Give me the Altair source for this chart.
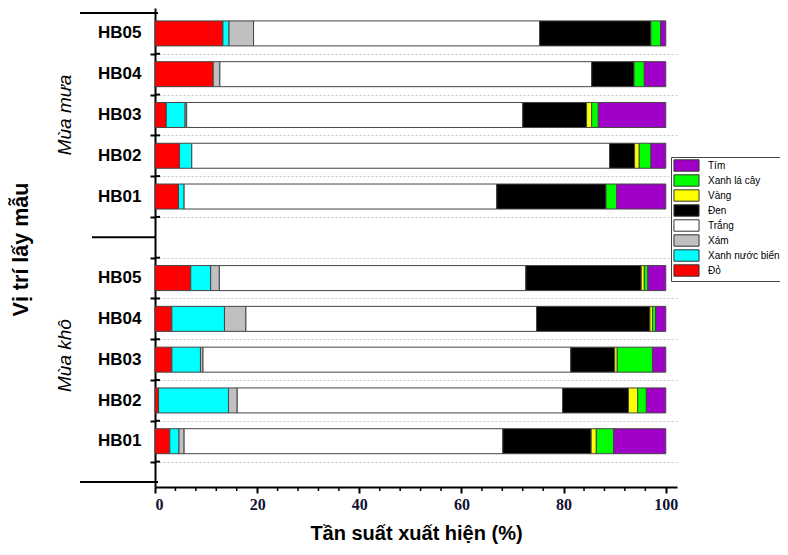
import altair as alt
import pandas as pd

# ---------------- data ----------------
sites = ["HB01", "HB02", "HB03", "HB04", "HB05"]
seasons = ["Mùa khô", "Mùa mưa"]
colour_names = ["Đỏ", "Xanh nước biển", "Xám", "Trắng", "Đen", "Vàng", "Xanh lá cây", "Tím"]
colour_hex = ["#FF0000", "#00FFFF", "#C0C0C0", "#FFFFFF", "#000000", "#FFFF00", "#00FF00", "#A000C8"]

# percentages in colour_names order (Đỏ ... Tím)
dry_hb01 = [2.9, 1.8, 1.0, 62.4, 17.3, 1.0, 3.4, 10.2]
dry_hb02 = [0.7, 13.7, 1.7, 63.7, 12.9, 1.8, 1.7, 3.8]
dry_hb03 = [3.3, 5.6, 0.5, 72.0, 8.6, 0.5, 6.9, 2.6]
dry_hb04 = [3.3, 10.3, 4.2, 56.9, 22.2, 0.5, 0.6, 2.0]
dry_hb05 = [7.0, 3.9, 1.7, 60.0, 22.6, 0.6, 0.7, 3.5]

wet_hb01 = [4.6, 1.1, 0.0, 61.2, 21.4, 0.0, 2.1, 9.6]
wet_hb02 = [4.8, 2.4, 0.0, 81.8, 4.9, 0.9, 2.3, 2.9]
wet_hb03 = [2.2, 3.7, 0.3, 65.8, 12.5, 1.0, 1.3, 13.2]
wet_hb04 = [11.4, 0.0, 1.3, 72.8, 8.3, 0.0, 2.0, 4.2]
wet_hb05 = [13.3, 1.2, 4.8, 56.0, 21.8, 0.0, 1.9, 1.0]

dry_rows = [dry_hb01, dry_hb02, dry_hb03, dry_hb04, dry_hb05]
wet_rows = [wet_hb01, wet_hb02, wet_hb03, wet_hb04, wet_hb05]

x_major = [0, 20, 40, 60, 80, 100]
x_minor = [v for v in range(0, 101, 4) if v % 20]

# ---------------- table ----------------
season_offset = {"Mùa khô": 0, "Mùa mưa": 6}
records = []
for season, rows in zip(seasons, [dry_rows, wet_rows]):
    for i, (site, vals) in enumerate(zip(sites, rows)):
        start = 0.0
        for cname, v in zip(colour_names, vals):
            if v > 0:
                records.append({"season": season, "site": site,
                                "pos": season_offset[season] + i + 0.5,
                                "colour": cname, "value": v,
                                "start": start, "end": start + v})
            start += v
df = pd.DataFrame(records)

tick_pos = list(range(0, 11))
tick_labels = sites + [""] + sites
label_expr = "[" + ",".join("'" + t + "'" for t in tick_labels) + "][datum.value]"

W, H = 522, 479
XT = "Tần suất xuất hiện (%)"
YT = "Vị trí lấy mẫu"
yscale = alt.Scale(domain=[-0.5, 11], nice=False, zero=False)
xscale = alt.Scale(domain=[0, 102.2], nice=False, zero=False)

legend_order = colour_names[::-1]
legend_colours = colour_hex[::-1]

bars = alt.Chart(df).mark_bar(size=25, stroke="#444444", strokeWidth=1).encode(
    x=alt.X("start:Q", scale=xscale, title=XT,
            axis=alt.Axis(values=x_major, tickSize=6, tickWidth=2, tickColor="black",
                          domainColor="black", domainWidth=2, grid=False,
                          labelFont="Liberation Serif", labelFontWeight="bold",
                          labelFontSize=16, labelColor="#111133", labelPadding=3,
                          titleFont="Liberation Sans",
                          titleFontWeight="bold", titleFontSize=20, titleColor="black",
                          titlePadding=11)),
    x2="end:Q",
    y=alt.Y("pos:Q", scale=yscale, title=YT,
            axis=alt.Axis(values=tick_pos, labelExpr=label_expr, labelOffset=-20.8,
                          tickSize=5, tickWidth=2, tickColor="black",
                          domainColor="black", domainWidth=2,
                          grid=True, gridColor="#c8c8c8", gridDash=[2, 2], gridWidth=1,
                          labelFont="Liberation Sans", labelFontWeight="bold",
                          labelFontSize=17, labelColor="black", labelPadding=9,
                          titleFont="Liberation Sans",
                          titleFontWeight="bold", titleFontSize=21.5, titleColor="black",
                          titleAngle=270, titleAlign="center", titleBaseline="middle",
                          titleX=-134, titleY=241)),
    color=alt.Color("colour:N",
                    scale=alt.Scale(domain=legend_order, range=legend_colours),
                    legend=alt.Legend(title=None, orient="none", legendX=516, legendY=149,
                                      direction="vertical",
                                      symbolType="M-2.2,-1H2.2V1H-2.2Z", symbolSize=130,
                                      symbolStrokeColor="#333333", symbolStrokeWidth=1,
                                      symbolOffset=7, labelOffset=15,
                                      labelFont="Liberation Sans", labelFontSize=10,
                                      labelColor="black", rowPadding=-2.2,
                                      padding=2, strokeColor="#444444", fillColor="white")),
)

ticks_df = pd.DataFrame({"p": tick_pos})
inner_ticks = alt.Chart(ticks_df).mark_rule(color="black", strokeWidth=2).encode(
    y=alt.Y("p:Q", scale=yscale, title=YT),
    x=alt.value(0), x2=alt.value(5),
)

minor_df = pd.DataFrame({"v": x_minor})
minor_ticks = alt.Chart(minor_df).mark_rule(color="black", strokeWidth=1.5).encode(
    x=alt.X("v:Q", scale=xscale, title=XT),
    y=alt.value(H), y2=alt.value(H + 4),
)

outer_df = pd.DataFrame({"p": [-0.5, 11]})
outer_lines = alt.Chart(outer_df).mark_rule(color="black", strokeWidth=2).encode(
    y=alt.Y("p:Q", scale=yscale, title=YT),
    x=alt.value(-75), x2=alt.value(3),
)
mid_df = pd.DataFrame({"p": [5.5]})
mid_line = alt.Chart(mid_df).mark_rule(color="black", strokeWidth=2).encode(
    y=alt.Y("p:Q", scale=yscale, title=YT),
    x=alt.value(-63), x2=alt.value(0),
)

season_df = pd.DataFrame({"season": seasons, "p": [2.6, 8.5]})
season_text = alt.Chart(season_df).mark_text(
    angle=270, align="center", baseline="middle", font="Liberation Sans",
    fontStyle="italic", fontSize=19, color="black").encode(
    y=alt.Y("p:Q", scale=yscale, title=YT),
    x=alt.value(-90),
    text="season:N",
)

chart = alt.layer(bars, inner_ticks, minor_ticks, outer_lines, mid_line, season_text).properties(
    width=W, height=H,
    autosize=alt.AutoSizeParams(type="none"),
    padding={"left": 147, "top": 0, "right": 103, "bottom": 60},
    background="white",
).configure_view(stroke=None)

chart.save("out.html", embed_options={"renderer": "svg", "actions": False})
